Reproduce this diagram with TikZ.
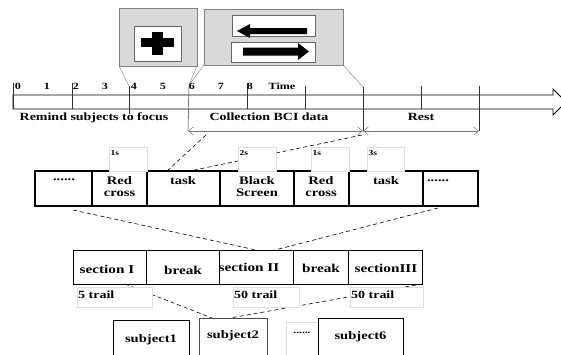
\documentclass[tikz,border=0pt]{standalone}
\usepackage{fontspec}
\setmainfont[FakeStretch=1.27]{Liberation Serif}
\usetikzlibrary{arrows.meta}

\begin{document}
\begin{tikzpicture}[x=1pt, y=-1pt, font=\bfseries,
  box/.style={anchor=north west, inner sep=0pt, outer sep=0pt},
  panel/.style={box, fill=black!15, draw=black!50, line width=0.5pt},
  screen/.style={box, fill=white, draw=black!60, line width=0.5pt},
  cellbox/.style={box, draw=black, line width=1.1pt},
  sectbox/.style={box, draw=black, line width=0.8pt},
  tagbox/.style={box, fill=white, draw=black!13, line width=0.4pt},
  subjbox/.style={box, draw=black, line width=0.9pt},
  guide/.style={draw=black!55, line width=0.35pt},
  tick/.style={draw=black!80, line width=0.45pt},
  span/.style={draw=black!55, line width=0.45pt,
    {Straight Barb[length=5pt,width=8pt]}-{Straight Barb[length=5pt,width=8pt]}},
  link/.style={draw=black, line width=0.6pt, dash pattern=on 4pt off 3pt},
  lab/.style={inner sep=0pt},
  numlab/.style={lab, font=\bfseries\fontsize{9.5}{10}\selectfont},
  phase/.style={lab, font=\bfseries\fontsize{11}{12}\selectfont},
  celltxt/.style={lab, align=center, font=\bfseries\fontsize{11.5}{12}\selectfont},
  tagtxt/.style={lab, anchor=north west, font=\bfseries\fontsize{7.5}{8}\selectfont},
  secttxt/.style={lab, font=\bfseries\fontsize{12}{13}\selectfont},
  trailtxt/.style={lab, anchor=west, font=\bfseries\fontsize{11}{12}\selectfont},
  subjtxt/.style={lab, font=\bfseries\fontsize{11.5}{12}\selectfont}]

\clip (0,0) rectangle (561,354);

% ---- stimulus panels ----
\node[panel, minimum width=78pt, minimum height=58pt] (cue) at (119,8) {};
\node[screen, minimum width=47pt, minimum height=35pt] (cuescreen) at (134,26) {};
\fill[black] (141,38) rectangle (174,47);
\fill[black] (152,32) rectangle (163,55);

\node[panel, minimum width=139pt, minimum height=56pt] (task) at (204,9) {};
\node[screen, minimum width=83pt, minimum height=21pt] (leftscreen) at (232,15) {};
\node[screen, minimum width=84pt, minimum height=20pt] (rightscreen) at (231,42) {};
\fill[black] (237,31) -- (250,24) -- (250,28) -- (307,28) -- (307,34) -- (250,34) -- (250,38) -- cycle;
\fill[black] (309,51.5) -- (298,43) -- (298,47.5) -- (243,47.5) -- (243,55.5) -- (298,55.5) -- (298,60) -- cycle;

% ---- time axis ----
\draw[line width=0.9pt] (13,95) -- (553,95) -- (553,89) -- (566,102) -- (553,115) -- (553,109) -- (13,109) -- cycle;

\coordinate (t0) at (13,83);
\coordinate (t4) at (129,86);
\coordinate (t6) at (189,85);
\coordinate (t12) at (363,87);
\coordinate (b6) at (188,131);
\coordinate (b12) at (363,131);
\coordinate (b15) at (479,131);

\draw[tick] (t0) -- (13,109);
\draw[tick] (72,83) -- (72,109);
\draw[tick] (t4) -- (129,114);
\draw[tick] (t6) -- (b6);
\draw[tick] (247,83) -- (247,109);
\draw[tick] (305,86) -- (305,109);
\draw[tick] (t12) -- (b12);
\draw[tick] (421,86) -- (421,109);
\draw[tick] (479,86) -- (b15);

\draw[guide] (cue.south west) -- (t4);
\draw[guide] (cue.south east) -- (t6);
\draw[guide] (task.south west) -- (t6);
\draw[guide] (task.south east) -- (t12);

\foreach \k in {0,...,8}
  \node[numlab] (n\k) at ({17.8+29*\k},86) {\k};
\node[numlab] (timelab) at (282,86) {Time};

\node[phase] (remind) at (94,118) {Remind subjects to focus};
\node[phase] (collect) at (269,117) {Collection BCI data};
\node[phase] (rest) at (421,117) {Rest};

\draw[span] (b6) -- (b12);
\draw[span] (b12) -- (b15);

% ---- one trial ----
\node[cellbox, minimum width=57pt, minimum height=35pt] (c1) at (35,171) {};
\node[cellbox, minimum width=55pt, minimum height=35pt] (c2) at (92,171) {};
\node[cellbox, minimum width=73pt, minimum height=35pt] (c3) at (147,171) {};
\node[cellbox, minimum width=74pt, minimum height=35pt] (c4) at (220,171) {};
\node[cellbox, minimum width=55pt, minimum height=35pt] (c5) at (294,171) {};
\node[cellbox, minimum width=74pt, minimum height=35pt] (c6) at (349,171) {};
\node[cellbox, minimum width=55pt, minimum height=35pt] (c7) at (423,171) {};

\coordinate (z1) at (206,135);
\coordinate (z2) at (362,135);
\coordinate (z3) at (167,171);
\coordinate (z4) at (190,171);
\draw[link] (z1) -- (z3);
\draw[link] (z2) -- (z4);

\node[tagbox, minimum width=38pt, minimum height=24pt] (g1) at (109,147) {};
\node[tagbox, minimum width=38pt, minimum height=24pt] (g2) at (238,147) {};
\node[tagbox, minimum width=38pt, minimum height=24pt] (g3) at (311,147) {};
\node[tagbox, minimum width=37pt, minimum height=24pt] (g4) at (367,147) {};
\node[tagtxt] (g1t) at (110.5,150) {1s};
\node[tagtxt] (g2t) at (239.5,150) {2s};
\node[tagtxt] (g3t) at (312.5,150) {1s};
\node[tagtxt] (g4t) at (368.5,150) {3s};

\node[celltxt] (c1t) at (64,180) {......};
\node[celltxt] (c2t) at (119.5,187) {Red\\cross};
\node[celltxt] (c3t) at (183,181) {task};
\node[celltxt] (c4t) at (257,187) {Black\\Screen};
\node[celltxt] (c5t) at (321,187) {Red\\cross};
\node[celltxt] (c6t) at (386,181) {task};
\node[celltxt] (c7t) at (438,181) {......};

% ---- sections ----
\node[sectbox, minimum width=73pt, minimum height=34pt] (s1) at (73,250) {};
\node[sectbox, minimum width=73pt, minimum height=34pt] (s2) at (146,250) {};
\node[sectbox, minimum width=74pt, minimum height=34pt] (s3) at (219,250) {};
\node[sectbox, minimum width=55pt, minimum height=34pt] (s4) at (293,250) {};
\node[sectbox, minimum width=74pt, minimum height=34pt] (s5) at (348,250) {};

\coordinate (y1) at (73,210);
\coordinate (y2) at (438,208);
\coordinate (y3) at (256,250);
\coordinate (y4) at (275,250);
\draw[link] (y1) -- (y3);
\draw[link] (y2) -- (y4);

\node[secttxt] (s1t) at (107,269) {section I};
\node[secttxt] (s2t) at (183,270) {break};
\node[secttxt] (s3t) at (249,267) {section II};
\node[secttxt] (s4t) at (321,268) {break};
\node[secttxt] (s5t) at (386,268) {sectionIII};

\coordinate (x1) at (125,284);
\coordinate (x2) at (416,285);
\coordinate (x3) at (212,318);
\coordinate (x4) at (230,318);
\draw[link] (x1) -- (x3);
\draw[link] (x2) -- (x4);

\node[tagbox, minimum width=75pt, minimum height=20pt] (r1) at (77,287) {};
\node[tagbox, minimum width=66pt, minimum height=20pt] (r2) at (233,287) {};
\node[tagbox, minimum width=73pt, minimum height=20pt] (r3) at (350,287) {};
\node[trailtxt] (r1t) at (78,295) {5 trail};
\node[trailtxt] (r2t) at (234,295) {50 trail};
\node[trailtxt] (r3t) at (351,295) {50 trail};

% ---- subjects ----
\node[tagbox, minimum width=44pt, minimum height=50pt] (gap) at (286,322) {};
\node[subjbox, minimum width=76pt, minimum height=50pt] (p1) at (113,320) {};
\node[subjbox, draw=black!70, minimum width=68pt, minimum height=50pt] (p2) at (199,318) {};
\node[subjbox, fill=white, minimum width=85pt, minimum height=50pt] (p6) at (318,318) {};
\node[subjtxt] (p1t) at (151,340) {subject1};
\node[subjtxt] (p2t) at (233,336) {subject2};
\node[subjtxt] (p6t) at (360.5,337) {subject6};
\node[celltxt, font=\bfseries\fontsize{9}{10}\selectfont] (pdots) at (302,333) {......};
\end{tikzpicture}
\end{document}
